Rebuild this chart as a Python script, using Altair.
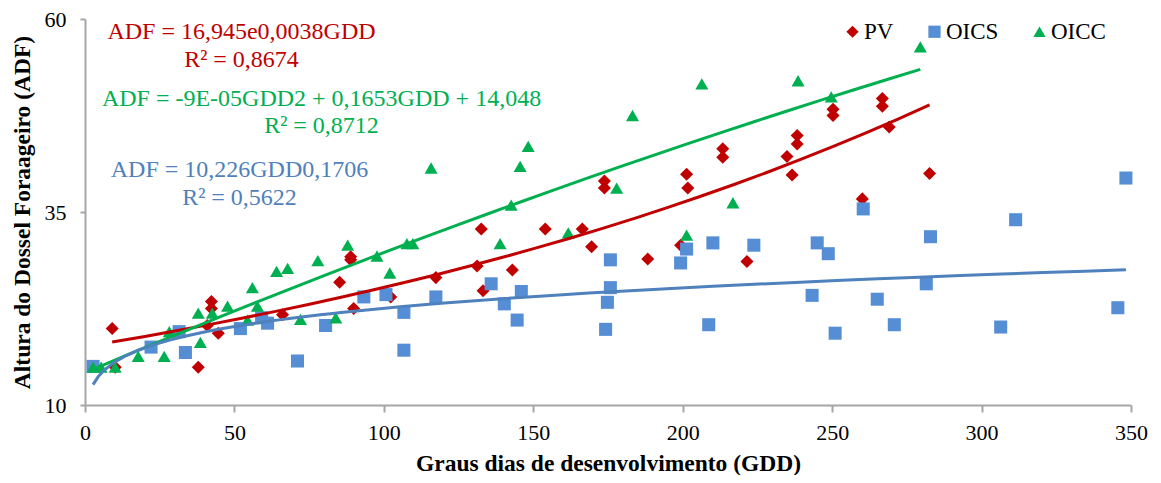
import altair as alt
import pandas as pd

# ---- data ----
pv_gdd = [9.1, 10.1, 37.9, 42.3, 42.3, 40.9, 44.6, 66.1, 85.2, 88.9, 88.9, 89.9,
          102.3, 117.4, 132.6, 131.2, 133.2, 143.0, 154.0, 166.4, 169.5, 188.3,
          173.8, 173.8, 199.3, 201.3, 201.7, 213.4, 213.4, 221.5, 234.9, 236.6,
          238.3, 238.3, 250.3, 250.3, 260.1, 266.8, 266.8, 269.1, 282.6]
pv_adf = [19.9, 14.9, 14.9, 23.4, 22.5, 20.3, 19.3, 21.7, 25.9, 29.2, 28.8, 22.5,
          24.0, 26.5, 32.8, 28.0, 24.8, 27.5, 32.8, 32.8, 30.5, 28.9,
          39.0, 38.1, 30.7, 39.9, 38.1, 43.2, 42.1, 28.6, 42.2, 39.8,
          44.9, 43.8, 48.3, 47.5, 36.7, 49.7, 48.7, 46.0, 40.0]

oics_gdd = [2.7, 22.1, 31.5, 33.6, 52.0, 59.1, 61.1, 71.1, 80.5, 93.3,
            100.7, 106.7, 106.7, 117.4, 135.9, 140.3, 144.6, 146.0,
            174.2, 174.8, 175.8, 175.8, 199.3, 201.3, 208.7, 210.1, 223.8,
            243.3, 245.0, 248.7, 251.0, 260.4, 265.1, 270.8, 281.5, 282.9,
            306.4, 311.4, 345.6, 348.3]
oics_adf = [15.0, 17.5, 19.5, 16.8, 19.9, 21.3, 20.6, 15.7, 20.3, 24.0,
            24.3, 22.0, 17.1, 24.0, 25.7, 23.1, 21.0, 24.7,
            19.8, 23.3, 28.8, 25.2, 28.4, 30.2, 20.4, 31.0, 30.7,
            24.2, 31.0, 29.6, 19.3, 35.4, 23.7, 20.4, 25.7, 31.8,
            20.1, 34.0, 22.6, 39.4]

oicc_gdd = [2.7, 5.4, 10.1, 17.8, 26.5, 28.2, 38.6, 37.9, 42.6, 47.7, 54.4,
            57.7, 56.0, 64.1, 67.8, 77.9, 87.9, 72.1, 83.9, 97.7, 102.0, 107.7,
            109.7, 115.8, 138.9, 142.6, 145.6, 148.3, 161.7, 177.9, 183.2,
            201.3, 206.4, 216.8, 238.6, 249.7, 279.5]
oicc_adf = [14.9, 14.9, 14.9, 16.3, 16.3, 19.5, 18.1, 21.9, 21.9, 22.8, 21.0,
            22.8, 25.2, 27.3, 27.7, 28.7, 30.7, 21.1, 21.3, 29.3, 27.1, 30.9,
            30.9, 40.7, 30.9, 35.9, 40.9, 43.5, 32.3, 38.1, 47.5,
            32.0, 51.6, 36.2, 52.0, 49.9, 56.4]

series = ["PV", "OICS", "OICC"]
point_colors = ["#C00000", "#558ED5", "#00B050"]
line_colors = ["#C00000", "#4F81BD", "#00B050"]
shapes = ["diamond", "square", "triangle-up"]

eq_lines = [
    ("ADF = 16,945e0,0038GDD", "R² = 0,8674"),
    ("ADF = 10,226GDD0,1706", "R² = 0,5622"),
    ("ADF = -9E-05GDD2 + 0,1653GDD + 14,048", "R² = 0,8712"),
]

x_ticks = [0, 50, 100, 150, 200, 250, 300, 350]
y_ticks = [10, 35, 60]

# ---- table ----
df = pd.concat([
    pd.DataFrame({"gdd": pv_gdd, "adf": pv_adf, "serie": "PV"}),
    pd.DataFrame({"gdd": oics_gdd, "adf": oics_adf, "serie": "OICS"}),
    pd.DataFrame({"gdd": oicc_gdd, "adf": oicc_adf, "serie": "OICC"}),
], ignore_index=True)

FONT = "Liberation Serif"
W, H = 1046, 386
TOP = 11

xscale = alt.Scale(domain=[0, 350], nice=False, zero=False)
yscale = alt.Scale(domain=[10, 60], nice=False, zero=False)

xaxis = alt.Axis(values=x_ticks, title="Graus dias de desenvolvimento (GDD)",
                 grid=False, labelFont=FONT, labelFontSize=22, labelColor="black",
                 labelPadding=10, tickSize=7, labelFlush=False, labelOverlap=False,
                 titleFont=FONT, titleFontSize=23.5,
                 titleFontWeight="bold", titleColor="black", titleY=58,
                 titleBaseline="middle", domainColor="#A6A6A6", tickColor="#A6A6A6",
                 domainWidth=2, tickWidth=2)
yaxis = alt.Axis(values=y_ticks, title="Altura do Dossel Foraageiro (ADF)",
                 grid=False, labelFont=FONT, labelFontSize=22, labelColor="black",
                 labelPadding=14, tickSize=5, labelFlush=False, labelOverlap=False,
                 titleFont=FONT, titleFontSize=23.5,
                 titleFontWeight="bold", titleColor="black", titleX=-63, titleY=H / 2,
                 titleAlign="center", titleBaseline="middle", titleAngle=-90,
                 domainColor="#A6A6A6", tickColor="#A6A6A6", domainWidth=2, tickWidth=2)

base = alt.Chart(df)

points = base.mark_point(filled=True, opacity=1, strokeWidth=0).encode(
    x=alt.X("gdd:Q", scale=xscale, axis=xaxis),
    y=alt.Y("adf:Q", scale=yscale, axis=yaxis),
    color=alt.Color("serie:N", scale=alt.Scale(domain=series, range=point_colors),
                    sort=series,
                    legend=alt.Legend(title=None, orient="none", legendX=756, legendY=1,
                                      direction="horizontal", labelFont=FONT,
                                      labelFontSize=23, labelColor="black",
                                      symbolSize=150, labelOffset=0,
                                      columnPadding=29, gridAlign="each",
                                      symbolStrokeWidth=0)),
    shape=alt.Shape("serie:N", scale=alt.Scale(domain=series, range=shapes), sort=series,
                    legend=None),
    size=alt.value(170),
)

# PV: exponential trend fitted as a straight line on log(ADF), like a spreadsheet does
pv_line = (base.transform_filter(alt.datum.serie == "PV")
           .transform_calculate(lny="log(datum.adf)")
           .transform_regression("gdd", "lny", method="poly", order=1)
           .transform_calculate(adf="exp(datum.lny)")
           .mark_line(color=line_colors[0], strokeWidth=3)
           .encode(x=alt.X("gdd:Q", scale=xscale), y=alt.Y("adf:Q", scale=yscale)))

def trend(name, color, **kw):
    return (base.transform_filter(alt.datum.serie == name)
            .transform_regression("gdd", "adf", **kw)
            .mark_line(color=color, strokeWidth=3)
            .encode(x=alt.X("gdd:Q", scale=xscale), y=alt.Y("adf:Q", scale=yscale)))

lines = [
    pv_line,
    trend("OICC", line_colors[2], method="poly", order=2),
    trend("OICS", line_colors[1], method="pow"),
]

# annotation texts (pixel positions in the plot area)
ann_pos = [(156.5, 13, 41), (154.5, 151, 179), (236.5, 80, 107)]
ann_colors = ["#C00000", "#4F81BD", "#00B050"]
texts = []
for (l1, l2), (cx, y1, y2), col in zip(eq_lines, ann_pos, ann_colors):
    for t, yy in ((l1, y1), (l2, y2)):
        texts.append(
            alt.Chart(pd.DataFrame({"label": [t]})).mark_text(
                font=FONT, fontSize=24, color=col, align="center", baseline="middle"
            ).encode(x=alt.value(cx), y=alt.value(yy), text="label:N")
        )

chart = alt.layer(points, *lines, *texts).properties(
    width=W, height=H,
    padding={"left": 77, "top": TOP, "right": 20, "bottom": 70},
    autosize=alt.AutoSizeParams(type="none"),
).configure_view(stroke=None)

chart.save("out.html", embed_options={"renderer": "svg", "actions": False})
